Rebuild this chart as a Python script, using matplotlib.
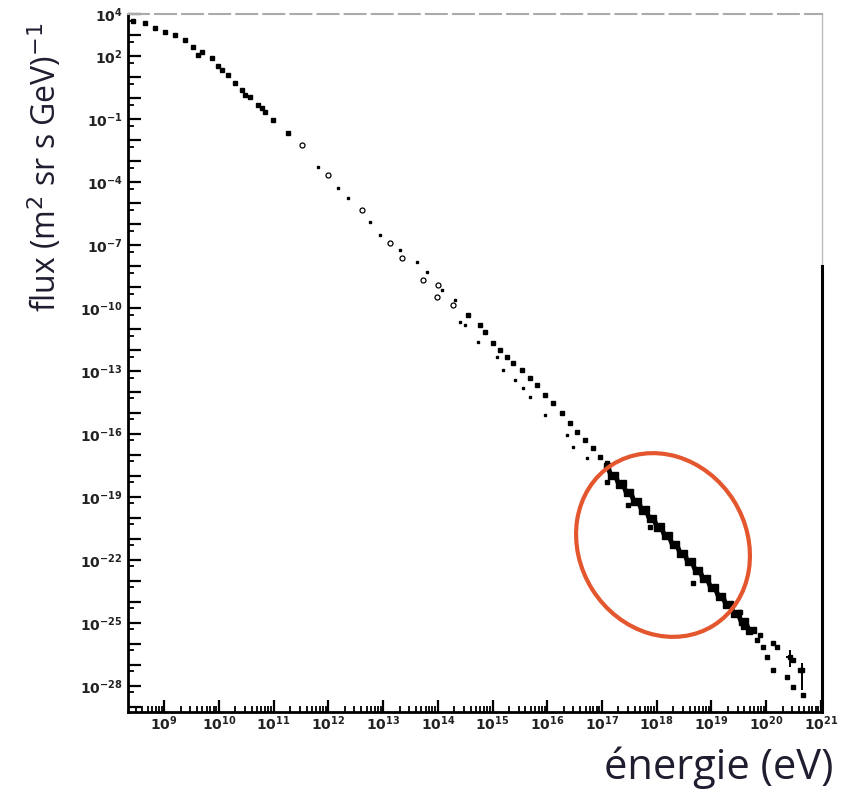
import matplotlib

matplotlib.use("Agg")
import matplotlib.pyplot as plt
import numpy as np
from matplotlib.patches import Ellipse
from matplotlib.ticker import FixedLocator, NullFormatter

# all values are log10: energy in eV, flux in (m^2 sr s GeV)^-1
direct_loge = [8.43, 8.65, 8.84, 9.02, 9.20, 9.38, 9.53, 9.62, 9.69, 9.88, 9.99, 10.06, 10.17,
               10.30, 10.42, 10.48, 10.57, 10.72, 10.79, 10.84, 10.99, 11.26]
direct_logf = [3.71, 3.57, 3.33, 3.14, 3.00, 2.76, 2.43, 2.05, 2.19, 1.90, 1.52, 1.33, 1.10,
               0.71, 0.38, 0.14, 0.05, -0.33, -0.48, -0.67, -1.05, -1.67]

mid_loge = [11.81, 12.18, 12.36, 12.76, 12.95, 13.31, 13.62, 13.80, 14.08, 14.32]
mid_logf = [-3.29, -4.29, -4.76, -5.90, -6.52, -7.24, -7.81, -8.29, -9.14, -9.62]
mid_open_loge = [11.52, 12.00, 12.62, 13.13, 13.35, 13.73, 14.00, 13.99, 14.28]
mid_open_logf = [-2.24, -3.67, -5.33, -6.90, -7.62, -8.67, -8.90, -9.48, -9.86]

knee_loge = [14.55, 14.77, 14.86, 15.01, 15.14, 15.26, 15.37, 15.54, 15.68, 15.81, 15.96,
             16.11, 16.27, 16.42, 16.54, 16.69, 16.84, 16.96, 17.09]
knee_logf = [-10.33, -10.81, -11.14, -11.67, -12.00, -12.33, -12.62, -12.95, -13.33, -13.67,
             -14.14, -14.52, -15.00, -15.48, -15.90, -16.29, -16.67, -17.10, -17.38]
knee_low_loge = [14.41, 14.50, 14.74, 15.08, 15.19, 15.41, 15.56, 15.68, 15.96, 16.36, 16.47, 16.73]
knee_low_logf = [-10.67, -10.81, -11.62, -12.33, -12.95, -13.43, -13.81, -14.24, -15.10, -16.05,
                 -16.62, -17.14]

band_loge = [17.10, 17.17, 17.24, 17.31, 17.38, 17.45, 17.52, 17.59, 17.66, 17.73, 17.80, 17.87,
             17.94, 18.01, 18.08, 18.15, 18.22, 18.29, 18.36, 18.43, 18.50, 18.57, 18.64, 18.71,
             18.78, 18.85, 18.92, 18.99, 19.06, 19.13, 19.20, 19.27, 19.34, 19.41, 19.48, 19.55,
             19.62, 19.69, 19.76]
band_logf = [-17.53, -18.00, -17.94, -18.41, -18.35, -18.82, -18.76, -19.23, -19.17, -19.64,
             -19.58, -20.05, -19.99, -20.46, -20.40, -20.87, -20.82, -21.28, -21.23, -21.69,
             -21.64, -22.10, -22.05, -22.51, -22.46, -22.92, -22.87, -23.33, -23.28, -23.74,
             -23.69, -24.15, -24.10, -24.56, -24.51, -24.97, -24.92, -25.39, -25.33]

tail_loge = [19.52, 19.58, 19.61, 19.70, 19.83, 19.88, 19.94, 20.12, 20.20, 20.49, 20.62,
             17.09, 17.47, 17.88, 18.66, 20.01, 20.12, 20.38, 20.49, 20.67]
tail_logf = [-24.48, -25.19, -24.95, -25.33, -25.81, -25.57, -26.14, -25.95, -26.14, -26.76, -27.24,
             -18.29, -19.38, -20.43, -23.10, -26.62, -27.24, -27.57, -28.05, -28.43]

uhe_loge = [20.43, 20.65]
uhe_logf = [-26.60, -27.24]
uhe_lo = [-27.10, -28.19]
uhe_hi = [-26.30, -26.90]

ytick_exp = list(range(-29, 5))
ylabel_exp = [4, 2, -1, -4, -7, -10, -13, -16, -19, -22, -25, -28]
xtick_exp = list(range(9, 22))

TEXT = "#1e1e30"
LABEL_FONT = ["Open Sans", "DejaVu Sans"]


def pts(loge, logf):
    return 10.0 ** np.array(loge), 10.0 ** np.array(logf)


fig = plt.figure(figsize=(8.49, 7.9), dpi=100)
ax = fig.add_axes([128 / 849, 78 / 790, 694 / 849, 698 / 790])
ax.set_xscale("log")
ax.set_yscale("log")
ax.set_xlim(10 ** 8.34, 10 ** 21.02)
ax.set_ylim(10 ** -29.24, 10 ** 4.02)

ax.plot(*pts(direct_loge, direct_logf), ls="none", marker="s", ms=2.2, color="k")
ax.plot(*pts(mid_loge, mid_logf), ls="none", marker="s", ms=1.9, color="k")
ax.plot(*pts(mid_open_loge, mid_open_logf), ls="none", marker="o", ms=3.6, mfc="white",
        mec="k", mew=0.9)
ax.plot(*pts(knee_loge, knee_logf), ls="none", marker="s", ms=2.8, color="k")
ax.plot(*pts(knee_low_loge, knee_low_logf), ls="none", marker="s", ms=1.8, color="k")
ax.plot(*pts(band_loge, band_logf), ls="-", lw=3.6, marker="s", ms=3.8, color="k")
ax.plot(*pts(tail_loge, tail_logf), ls="none", marker="s", ms=2.4, color="k")

ue, uf = pts(uhe_loge, uhe_logf)
lo = 10.0 ** np.array(uhe_lo)
hi = 10.0 ** np.array(uhe_hi)
ax.errorbar(ue, uf, yerr=[uf - lo, hi - uf], xerr=[ue * 0.15, ue * 0.15], fmt="s", ms=2.5,
            color="k", elinewidth=1.4, capsize=0)

# ticks
ax.yaxis.set_major_locator(FixedLocator([10.0 ** k for k in ytick_exp]))
ax.yaxis.set_minor_locator(FixedLocator([5 * 10.0 ** k for k in ytick_exp]))
ax.yaxis.set_minor_formatter(NullFormatter())
ax.set_yticklabels([rf"$\mathbf{{10^{{{k}}}}}$" if k in ylabel_exp else "" for k in ytick_exp])
ax.xaxis.set_major_locator(FixedLocator([10.0 ** k for k in xtick_exp]))
ax.xaxis.set_minor_locator(FixedLocator([m * 10.0 ** k for k in range(8, 21) for m in range(2, 10)]))
ax.xaxis.set_minor_formatter(NullFormatter())
ax.set_xticklabels([rf"$\mathbf{{10^{{{k}}}}}$" for k in xtick_exp])
ax.tick_params(which="major", direction="in", length=9, width=1.6, labelsize=10,
               labelcolor="#222222")
ax.tick_params(which="minor", direction="in", length=4.5, width=1.3)
ax.tick_params(axis="x", pad=2)
ax.tick_params(axis="y", pad=4)

# frame
for side in ("left", "bottom"):
    ax.spines[side].set_linewidth(2.0)
ax.spines["top"].set_color("#aaaaaa")
ax.spines["top"].set_linewidth(1.5)
ax.spines["top"].set_linestyle((0, (10, 3)))
ax.spines["right"].set_linewidth(2.2)
ax.spines["right"].set_bounds(10 ** -29.24, 1e-8)
ax.plot([1, 1], [1e-8, 10 ** 4.02], transform=ax.get_yaxis_transform(), color="#bbbbbb",
        lw=1.0, clip_on=False)

fig.text(45 / 849, 1 - 167 / 790, "flux (m$^2$ sr s GeV)$^{-1}$", rotation=90, ha="center",
         va="center", fontsize=23, color=TEXT, family=LABEL_FONT)
fig.text(719 / 849, 1 - 768 / 790, "énergie (eV)", ha="center", va="center", fontsize=30,
         color=TEXT, family=LABEL_FONT)

# highlight around the ankle region
fig.add_artist(Ellipse((6.63, 2.45), 1.90, 1.67, angle=-57.7, transform=fig.dpi_scale_trans,
                       fill=False, ec="#e4572e", lw=3.0))

fig.savefig("out.png", dpi=100)
